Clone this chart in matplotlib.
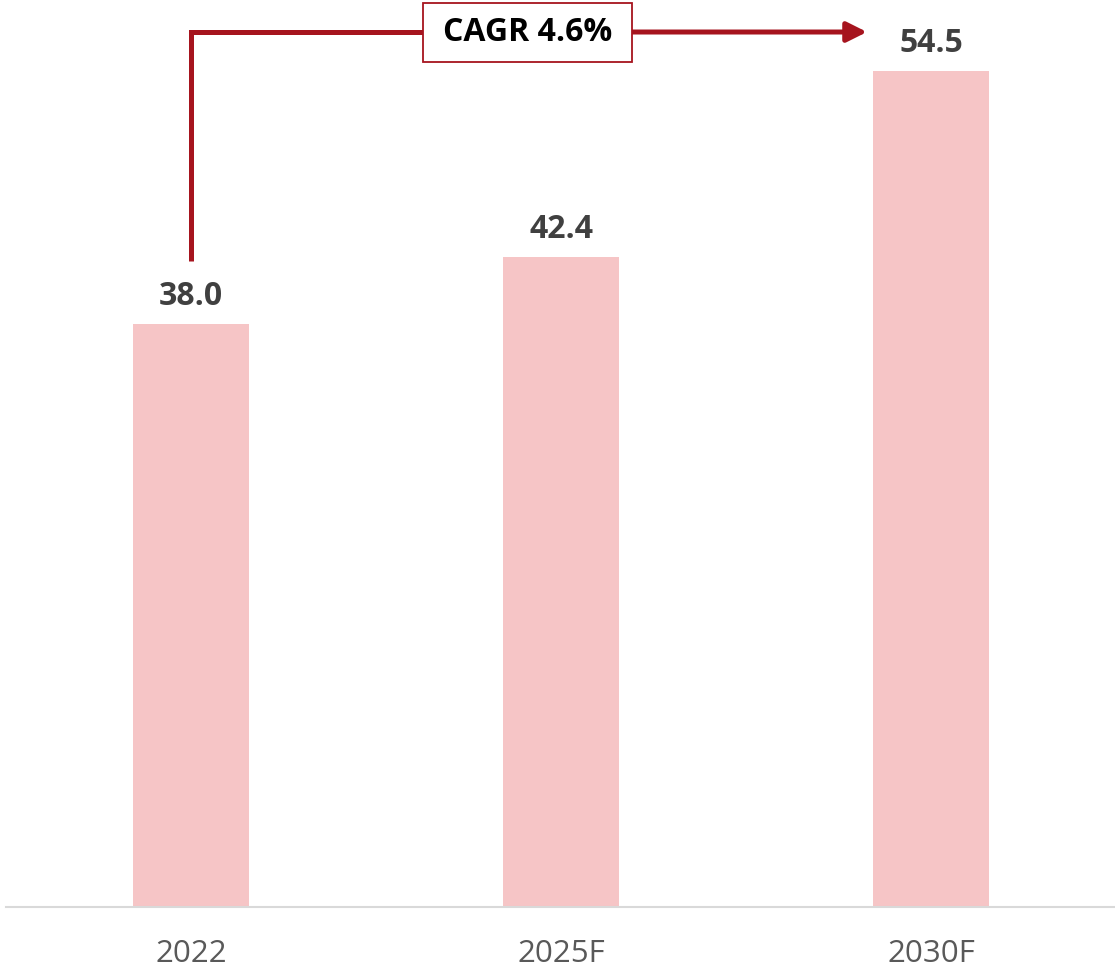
import matplotlib
matplotlib.use("Agg")
import matplotlib.pyplot as plt
from matplotlib.patches import Rectangle

categories = ["2022", "2025F", "2030F"]
values = [38.0, 42.4, 54.5]
value_labels = ["38.0", "42.4", "54.5"]
cagr_text = "CAGR 4.6%"

plt.rcParams['font.family'] = ['Open Sans', 'DejaVu Sans']

W, H = 1115, 973
fig = plt.figure(figsize=(W / 100, H / 100), dpi=100)
ax = fig.add_axes([6 / W, 66 / H, 1110 / W, 907 / H])

x = list(range(len(categories)))
bar_color = "#F6C5C6"
red = "#A6141E"

ax.bar(x, values, width=0.3135, color=bar_color, zorder=2)
ax.set_xlim(-0.5, 2.5)
ax.set_ylim(0, 907 / 15.34)

for s in ["top", "right", "left"]:
    ax.spines[s].set_visible(False)
ax.spines["bottom"].set_color("#D9D9D9")
ax.spines["bottom"].set_linewidth(1.5)
ax.set_yticks([])
ax.set_xticks(x)
ax.set_xticklabels(categories, fontsize=22.5, color="#595959")
ax.tick_params(axis="x", length=0, pad=23)

for xi, v, lab in zip(x, values, value_labels):
    ax.annotate(lab, (xi, v), xytext=(0, 13.5), textcoords="offset points",
                ha="center", va="baseline", fontsize=23, fontweight="bold",
                color="#404040", annotation_clip=False)

# CAGR bracket
y_top = 57.04
ax.plot([x[0], x[0], 1.0], [42.1, y_top, y_top], color=red, lw=3.6,
        solid_capstyle="butt", solid_joinstyle="miter", clip_on=False, zorder=3)
ax.annotate("", xy=(1.827, y_top), xytext=(0.9, y_top),
            arrowprops=dict(arrowstyle="-|>,head_length=1.2,head_width=0.6",
                            color=red, lw=3.6, shrinkA=0, shrinkB=0),
            annotation_clip=False, zorder=3)

bw, bh = 209 / 370, 59 / 15.34
rect = Rectangle((0.909 - bw / 2, 57.0 - bh / 2), bw, bh, facecolor="white",
                 edgecolor=red, lw=1.3, clip_on=False, zorder=4)
ax.add_patch(rect)
ax.text(0.909, 57.0, cagr_text, ha="center", va="center", fontsize=23,
        fontweight="bold", color="black", zorder=5, clip_on=False)

fig.savefig("out.png", dpi=100)
